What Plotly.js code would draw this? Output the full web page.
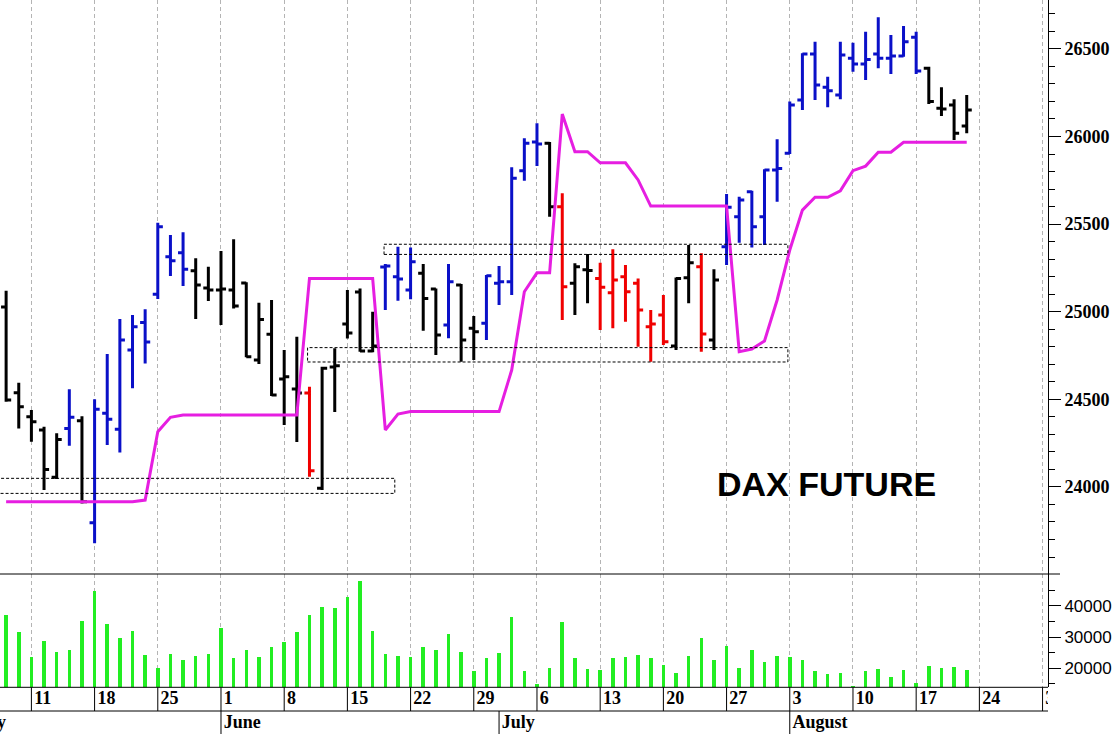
<!DOCTYPE html>
<html>
<head>
<meta charset="utf-8">
<script src="https://cdn.plot.ly/plotly-3.0.1.min.js"></script>
<style>
html,body{margin:0;padding:0;background:#ffffff;}
#chart{width:1119px;height:734px;}
</style>
</head>
<body>
<div id="chart"></div>
<script>
// ---------- DATA ----------
// First bar: Thu 2026-05-07, last bar: Fri 2026-08-21 (one bar per trading day)
const firstBarDate = '2026-05-07';
const opens = [25027,24538,24401,24325,24055,24334,24378,23795,24420,24329,
  24781,24939,25099,25314,25337,25234,25135,25124,25124,25164,
  24724,24871,24616,24559,24536,23993,24684,24930,25112,24776,
  25255,25200,25124,25219,25129,24924,25152,24905,24934,25162,
  25171,25805,25968,25961,25599,25162,25240,25190,25108,25200,
  25162,24914,24981,24804,25194,25257,24838,25371,25542,25685,
  25542,25809,25904,26208,26471,26281,26237,26446,26414,26471,
  26446,26459,26566,26389,26161,26180,26060];
const highs = [25120,24595,24439,24343,24306,24557,24404,24500,24758,24958,
  24981,25014,25508,25438,25453,25305,25257,25346,25413,25168,
  25051,25067,24781,24857,24572,24686,24791,25124,25133,25000,
  25272,25371,25367,25272,25133,25272,25158,24975,25209,25261,
  25824,25990,26075,25968,25676,25276,25329,25280,25356,25266,
  25190,25010,25095,25195,25381,25333,25242,25672,25656,25690,
  25813,25984,26199,26475,26541,26341,26541,26535,26598,26680,
  26579,26631,26598,26398,26281,26212,26237];
const lows = [24486,24334,24258,23982,24045,24235,23906,23678,24239,24197,
  24563,24705,25072,25204,25147,24958,25061,24924,25019,24740,
  24701,24519,24353,24256,24058,23982,24427,24847,24772,24768,
  25010,25063,25071,24891,24753,24848,24714,24724,24838,25038,
  25095,25748,25831,25542,24952,24981,25048,24895,24905,24943,
  24800,24714,24810,24781,25048,24772,24781,25266,25394,25367,
  25381,25628,25900,26151,26208,26167,26212,26370,26322,26389,
  26357,26455,26357,26185,26117,25980,26018];
const closes = [24496,24458,24372,24100,24271,24397,23915,24443,24386,24838,
  24914,24827,25485,25291,25242,25152,25124,25129,25032,24743,
  24956,24524,24629,24536,24092,24677,24692,24878,24776,24804,
  25261,25186,25285,25076,24867,25171,24838,24886,25205,25171,
  25761,25961,25957,25599,25143,25257,25235,25139,25181,25114,
  25010,24930,24829,25190,25280,24873,25181,25596,25637,25485,
  25809,25818,26180,26471,26294,26261,26465,26414,26440,26446,
  26459,26541,26374,26199,26157,26018,26151];
// bar colour code per day: k = black, b = blue, r = red
const barColorCodes = ('kkkkkbkbbbbbbbbkkkkkkkkkrkkkkkbbbkkbkkbbbbbkrkkrrrrrrkkrkbbbbbbbbbbbbbbbbkkkkk').split('');
const volumes = [37100,31550,23500,28770,25130,26000,35190,44800,34200,29600,
  31980,24280,20000,24600,22670,24060,24500,32830,23200,26000,
  23530,26740,28340,31550,37000,39570,39250,42890,47900,31870,
  24500,24060,23530,26740,25880,31020,25130,19150,23200,25030,
  36360,19040,14970,20000,34760,23200,19680,19470,23200,23530,
  24170,23200,21070,18600,24060,29630,22670,27270,20000,25880,
  21930,24060,23530,22780,19040,18070,18500,14440,19040,19890,
  17220,19470,15400,20860,20000,20430,19570];
// magenta trailing line
const stopLine = [23915,23915,23915,23915,23915,23915,23915,23915,23915,23915,
  23915,23925,24315,24397,24410,24410,24410,24410,24410,24410,
  24410,24410,24410,24410,25190,25190,25190,25190,25190,25190,
  24325,24416,24430,24430,24430,24430,24430,24430,24430,24430,
  24667,25114,25222,25222,26128,25913,25913,25850,25850,25850,
  25752,25603,25603,25603,25603,25603,25603,25603,24772,24787,
  24833,25067,25352,25580,25653,25653,25690,25805,25831,25910,
  25910,25967,25967,25967,25967,25967,25967];
// dashed zones (price bands) and their extent in trading-day positions on the axis
const zoneLow   = [23963, 25327, 24713];
const zoneHigh  = [24049, 25385, 24795];
const zoneStart = [-1.0, 32.9, 26.85];
const zoneEnd   = [33.75, 64.85, 64.85];
const monthNames = ['January','February','March','April','May','June','July','August','September','October','November','December'];
const priceTickStep = 500, priceMinorStep = 100;
const volumeTicks = [20000, 30000, 40000];
const volumeMinorTicks = [15000, 25000, 35000, 45000];
const chartTitle = 'DAX FUTURE';

// ---------- AXIS CALENDAR (trading days, 4 May – 31 Aug 2026) ----------
const sessionDates = [];
for (let t = Date.UTC(2026,4,4); t <= Date.UTC(2026,7,31); t += 864e5) {
  const d = new Date(t); const w = d.getUTCDay();
  if (w > 0 && w < 6) sessionDates.push(d.toISOString().slice(0,10));
}
const startIdx = sessionDates.indexOf(firstBarDate);
const xs = opens.map((_, i) => startIdx + i);
const xRange = [startIdx - 0.484, startIdx + 82.43];
const mondayIdx = [], mondayText = [], monthIdx = [], monthText = [];
sessionDates.forEach((s, i) => {
  const d = new Date(s + 'T00:00:00Z');
  if (d.getUTCDay() === 1) { mondayIdx.push(i); mondayText.push(String(d.getUTCDate())); }
  if (i === 0 || sessionDates[i-1].slice(5,7) !== s.slice(5,7)) { monthIdx.push(i); monthText.push(monthNames[d.getUTCMonth()]); }
});
const visMonday = mondayIdx.map((v, k) => k).filter(k => mondayIdx[k] > xRange[0]);

// ---------- LAYOUT GEOMETRY ----------
const H = 734;
const yPriceBottom = (H - 574) / H;
const yVolBottom = (H - 687.3) / H;
const yRowSplit = (H - 711) / H;

const colorMap = {k: '#000000', b: '#0a10c8', r: '#f00000'};
const traces = [];

traces.push({
  type: 'bar', x: xs, y: volumes, width: 0.28,
  marker: {color: '#22ee22', line: {width: 0}},
  xaxis: 'x', yaxis: 'y2', hoverinfo: 'skip'
});

['k','b','r'].forEach(c => {
  const idx = barColorCodes.map((v, i) => v === c ? i : -1).filter(i => i >= 0);
  traces.push({
    type: 'ohlc',
    x: idx.map(i => xs[i]),
    open: idx.map(i => opens[i]),
    high: idx.map(i => highs[i]),
    low: idx.map(i => lows[i]),
    close: idx.map(i => closes[i]),
    increasing: {line: {color: colorMap[c], width: 3}},
    decreasing: {line: {color: colorMap[c], width: 3}},
    tickwidth: 0.4,
    xaxis: 'x', yaxis: 'y', hoverinfo: 'skip'
  });
});

traces.push({
  type: 'scatter', mode: 'lines', x: xs, y: stopLine,
  line: {color: '#e61ee1', width: 3},
  xaxis: 'x', yaxis: 'y', hoverinfo: 'skip'
});

traces.push({
  type: 'scatter', mode: 'text',
  x: visMonday.map(k => mondayIdx[k] + 0.22), y: visMonday.map(() => 34.7),
  text: visMonday.map(k => mondayText[k]), textposition: 'middle right',
  textfont: {family: 'Liberation Serif', size: 18, color: '#000000', weight: 700},
  cliponaxis: true, xaxis: 'x2', yaxis: 'y3', hoverinfo: 'skip'
});
traces.push({
  type: 'scatter', mode: 'text',
  x: monthIdx.map(i => i + 0.22), y: monthIdx.map(() => 10.5),
  text: monthText, textposition: 'middle right',
  textfont: {family: 'Liberation Serif', size: 18, color: '#000000', weight: 700},
  cliponaxis: true, xaxis: 'x2', yaxis: 'y3', hoverinfo: 'skip'
});

const shapes = [];
// panel borders
shapes.push({type:'line', xref:'paper', yref:'paper', x0:0, x1:1060/1048, y0:yPriceBottom, y1:yPriceBottom, line:{color:'#000', width:1}});
shapes.push({type:'line', xref:'paper', yref:'paper', x0:0, x1:1, y0:yVolBottom, y1:yVolBottom, line:{color:'#000', width:1}});
shapes.push({type:'line', xref:'paper', yref:'paper', x0:0, x1:1, y0:yRowSplit, y1:yRowSplit, line:{color:'#000', width:1}});
mondayIdx.forEach(i => shapes.push({type:'line', xref:'x', yref:'paper', x0:i, x1:i, y0:yRowSplit, y1:yVolBottom, line:{color:'#000', width:1}}));
monthIdx.forEach(i => shapes.push({type:'line', xref:'x', yref:'paper', x0:i, x1:i, y0:0, y1:yRowSplit, line:{color:'#000', width:1}}));
// dashed zones
zoneLow.forEach((lo, k) => shapes.push({
  type:'rect', xref:'x', yref:'y', x0: zoneStart[k], x1: zoneEnd[k],
  y0: lo, y1: zoneHigh[k], line:{color:'#000', width:1, dash:'3px,2px'}, fillcolor:'rgba(0,0,0,0)', layer:'above'
}));

const layout = {
  width: 1119, height: 734,
  margin: {l:0, r:71, t:0, b:0, pad:0, autoexpand:false},
  paper_bgcolor: '#ffffff', plot_bgcolor: '#ffffff',
  showlegend: false, dragmode: false, hovermode: false,
  bargap: 0,
  xaxis: {
    domain:[0,1], range: xRange, anchor:'y', type:'linear',
    tickmode:'array', tickvals: mondayIdx, showticklabels:false, ticks:'',
    showgrid:true, gridcolor:'#b4b4b4', gridwidth:1, griddash:'4px,3px',
    zeroline:false, showline:false, rangeslider:{visible:false}, fixedrange:true
  },
  xaxis2: {
    domain:[0,1], range: xRange, anchor:'y3', type:'linear',
    showticklabels:false, ticks:'', showgrid:false, zeroline:false, showline:false, fixedrange:true
  },
  yaxis: {
    domain:[yPriceBottom, 1], range:[23503, 26779], anchor:'x', side:'right',
    tickmode:'linear', tick0:0, dtick: priceTickStep, tickformat:'d',
    ticks:'outside', ticklen:12, tickwidth:1, tickcolor:'#000',
    minor:{tickmode:'linear', tick0:0, dtick: priceMinorStep, ticks:'outside', ticklen:6, tickwidth:1, tickcolor:'#000', showgrid:false},
    showline:true, linecolor:'#000', linewidth:1,
    showgrid:false, zeroline:false,
    tickfont:{family:'Liberation Serif', size:18, color:'#000', weight:700}, fixedrange:true
  },
  yaxis2: {
    domain:[yVolBottom, yPriceBottom], range:[13900, 50270], anchor:'x', side:'right',
    tickmode:'array', tickvals: volumeTicks, ticktext: volumeTicks.map(String),
    ticks:'outside', ticklen:12, tickwidth:1, tickcolor:'#000',
    minor:{tickmode:'array', tickvals: volumeMinorTicks, ticks:'outside', ticklen:6, tickwidth:1, tickcolor:'#000', showgrid:false},
    showline:true, linecolor:'#000', linewidth:1,
    showgrid:false, zeroline:false,
    tickfont:{family:'Liberation Sans', size:17, color:'#000'}, fixedrange:true
  },
  yaxis3: {
    domain:[0, yVolBottom], range:[0, 46.7], anchor:'x2', visible:false, fixedrange:true
  },
  shapes: shapes,
  annotations: [{
    xref:'paper', yref:'paper', x: 826.5/1048, y: (H-484)/H, xanchor:'center', yanchor:'middle',
    text: chartTitle, showarrow:false,
    font:{family:'Liberation Sans', size:34, color:'#000', weight:700}
  }]
};

Plotly.newPlot('chart', traces, layout, {staticPlot:true, displayModeBar:false});
</script>
</body>
</html>
